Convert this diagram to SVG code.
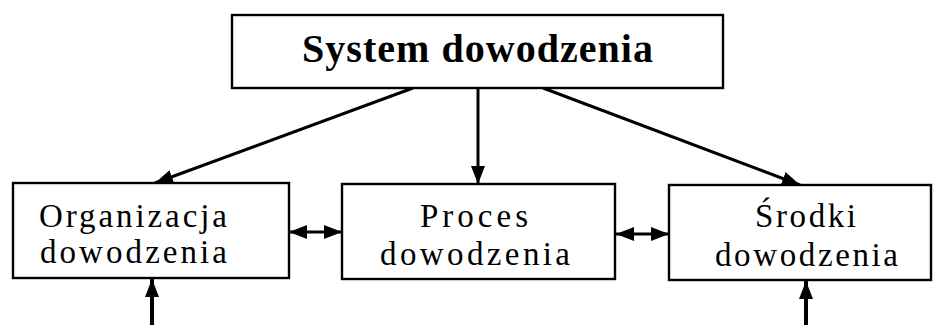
<svg xmlns="http://www.w3.org/2000/svg" width="933" height="325" viewBox="0 0 933 325">
  <style>
    .box { fill: #ffffff; stroke: #000000; stroke-width: 2.4; }
    .lbl { font-family: "Liberation Serif", "Times New Roman", serif; font-size: 33px; fill: #000000; }
    .title { font-family: "Liberation Serif", "Times New Roman", serif; font-size: 40px; font-weight: bold; fill: #000000; }
    .conn { stroke: #000000; stroke-width: 3; fill: none; }
  </style>
  <defs>
    <marker id="arrow" viewBox="0 0 18 14" refX="18" refY="7" markerWidth="18" markerHeight="14" markerUnits="userSpaceOnUse" orient="auto-start-reverse">
      <path d="M0,0 L18,7 L0,14 Z" fill="#000000"/>
    </marker>
  </defs>
  <rect x="0" y="0" width="933" height="325" fill="#ffffff"/>

  <g id="connectors">
    <line class="conn" x1="413" y1="88" x2="155" y2="183" marker-end="url(#arrow)"/>
    <line class="conn" x1="478" y1="88" x2="478" y2="184" marker-end="url(#arrow)"/>
    <line class="conn" x1="543" y1="88" x2="800" y2="185" marker-end="url(#arrow)"/>
    <line class="conn" x1="289" y1="232" x2="342" y2="232" marker-start="url(#arrow)" marker-end="url(#arrow)"/>
    <line class="conn" x1="616" y1="234" x2="669" y2="234" marker-start="url(#arrow)" marker-end="url(#arrow)"/>
    <line class="conn" x1="152" y1="325" x2="152" y2="279" marker-end="url(#arrow)" style="stroke-width:4"/>
    <line class="conn" x1="806" y1="325" x2="806" y2="281" marker-end="url(#arrow)" style="stroke-width:4"/>
  </g>

  <g id="system">
    <rect class="box" x="232" y="15" width="491" height="73"/>
    <text class="title" x="302" y="62" textLength="351" lengthAdjust="spacing">System dowodzenia</text>
  </g>

  <g id="organizacja">
    <rect class="box" x="13" y="183" width="276" height="95"/>
    <text class="lbl" x="39" y="227" textLength="188" lengthAdjust="spacing">Organizacja</text>
    <text class="lbl" x="40" y="263" textLength="187" lengthAdjust="spacing">dowodzenia</text>
  </g>

  <g id="proces">
    <rect class="box" x="342" y="184" width="273" height="95"/>
    <text class="lbl" x="420" y="227" textLength="108" lengthAdjust="spacing">Proces</text>
    <text class="lbl" x="380" y="265" textLength="190" lengthAdjust="spacing">dowodzenia</text>
  </g>

  <g id="srodki">
    <rect class="box" x="669" y="185" width="262" height="95"/>
    <text class="lbl" x="755" y="227" textLength="101" lengthAdjust="spacing">Środki</text>
    <text class="lbl" x="715" y="266" textLength="183" lengthAdjust="spacing">dowodzenia</text>
  </g>
</svg>
